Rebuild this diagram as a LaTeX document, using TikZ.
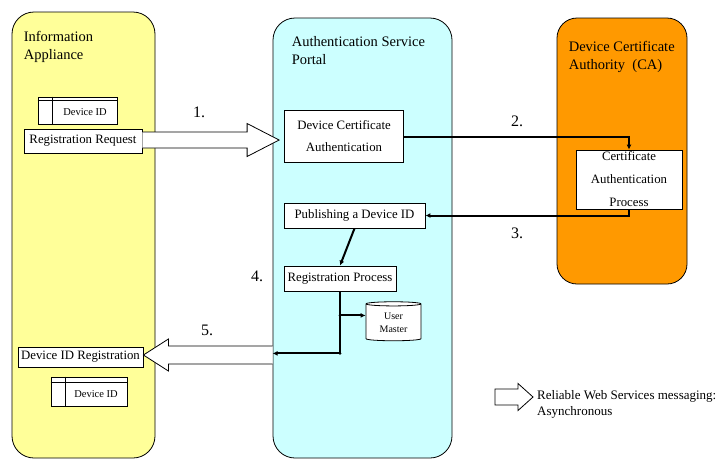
\documentclass[tikz,border=0pt]{standalone}
\usepackage{fontspec}
\setmainfont{Liberation Serif}
\usetikzlibrary{shapes.geometric,calc,arrows.meta}
\definecolor{laneyellow}{HTML}{FFFF99}
\definecolor{lanecyan}{HTML}{CCFFFF}
\definecolor{laneorange}{HTML}{FF9900}
\tikzset{
	lane/.style={draw, line width=0.8pt, rounded corners=22pt, inner sep=0pt},
	lanetitle/.style={anchor=north west, inner sep=0pt, align=left, font=\fontsize{14.5}{18}\selectfont},
	procbox/.style={draw, fill=white, line width=0.8pt, inner sep=1pt, align=center, font=\fontsize{12.8}{22}\selectfont},
	idtable/.style={draw, fill=white, line width=0.8pt, inner sep=0pt},
	smalltext/.style={inner sep=0pt, align=center, font=\fontsize{10.5}{13}\selectfont},
	conn/.style={line width=2pt, -{Latex[length=5pt,width=5pt]}},
	fatarrow/.style={draw, fill=white, line width=0.8pt, line join=miter},
	steplabel/.style={inner sep=0pt, font=\fontsize{16}{16}\selectfont},
}
\begin{document}
\begin{tikzpicture}[x=1pt, y=-1pt]
	\useasboundingbox (0,0) rectangle (719,459);
	
	% lanes
	\node[lane, fill=laneyellow, minimum width=143pt, minimum height=446pt] (applane) at (83.5,235) {};
	\node[lane, fill=lanecyan, minimum width=179pt, minimum height=440pt] (portlane) at (362.5,238) {};
	\node[lane, fill=laneorange, rounded corners=20pt, minimum width=130pt, minimum height=266pt] (calane) at (622,151) {};
	
	% lane titles
	\node[lanetitle] (apptitle) at ($(applane.north west)+(12,19.5)$) {Information\\Appliance};
	\node[lanetitle] (porttitle) at ($(portlane.north west)+(19,19)$) {Authentication Service\\Portal};
	\node[lanetitle] (catitle) at ($(calane.north west)+(12,23)$) {Device Certificate\\Authority\ \ (CA)};
	
	% device id tables
	\node[idtable, minimum width=79pt, minimum height=27pt] (devidtop) at (77.5,110.5) {};
	\draw[line width=0.8pt] ($(devidtop.north west)+(15,0)$) -- ($(devidtop.south west)+(15,0)$);
	\draw[line width=0.8pt] ($(devidtop.north west)+(0,3.5)$) -- ($(devidtop.north east)+(0,3.5)$);
	\node[smalltext] (devidtoptxt) at ($(devidtop.center)+(7.5,2)$) {Device ID};
	
	\node[idtable, minimum width=76pt, minimum height=29pt] (devidbot) at (89,391.5) {};
	\draw[line width=0.8pt] ($(devidbot.north west)+(15,0)$) -- ($(devidbot.south west)+(15,0)$);
	\draw[line width=0.8pt] ($(devidbot.north west)+(0,5.5)$) -- ($(devidbot.north east)+(0,5.5)$);
	\node[smalltext] (devidbottxt) at ($(devidbot.center)+(7,3)$) {Device ID};
	
	% boxes
	\node[procbox, minimum width=118pt, minimum height=24pt] (reqbox) at (83,141) {Registration Request};
	\node[procbox, minimum width=119pt, minimum height=52pt] (dcabox) at (344,136.5) {Device Certificate\\Authentication};
	\node[procbox, minimum width=106pt, minimum height=59pt, font=\fontsize{12.8}{23}\selectfont] (capbox) at (629,179.5) {Certificate\\Authentication\\Process};
	\node[procbox, minimum width=141pt, minimum height=25pt] (pubbox) at (354.5,215.5) {Publishing a Device ID};
	\node[procbox, minimum width=112pt, minimum height=25pt] (regbox) at (340,278.5) {Registration Process};
	\node[procbox, minimum width=125pt, minimum height=20pt] (didreg) at (80.5,357) {Device ID Registration};
	\node[cylinder, shape border rotate=90, draw, fill=white, line width=0.8pt, aspect=0.15, minimum width=55pt, minimum height=39pt, inner sep=0pt, align=center, font=\fontsize{10}{13}\selectfont] (umaster) at (393.5,322.5) {User\\Master};
	
	% web services arrows
	\coordinate (tip1) at ($(dcabox.west |- reqbox.east)+(-5,-1)$);
	\draw[fatarrow] ($(reqbox.east |- tip1)+(0,-8)$) -- ($(tip1)+(-32,-8)$) -- ($(tip1)+(-32,-16.5)$) -- (tip1) -- ($(tip1)+(-32,16.5)$) -- ($(tip1)+(-32,8)$) -- ($(reqbox.east |- tip1)+(0,8)$);
	\coordinate (tip5) at ($(didreg.east)+(0,-2)$);
	\draw[fatarrow] ($(tip5 -| portlane.west)+(0,-9)$) -- ($(tip5)+(25,-9)$) -- ($(tip5)+(25,-16)$) -- (tip5) -- ($(tip5)+(25,16)$) -- ($(tip5)+(25,9)$) -- ($(tip5 -| portlane.west)+(0,9)$);
	
	% connectors
	\draw[conn] (dcabox.east) -| (capbox.north);
	\draw[conn] (capbox.south) |- (pubbox.east);
	\draw[conn] (pubbox.south) -- (regbox.north);
	\coordinate (ubranch) at ($(regbox.south)+(0,24)$);
	\coordinate (retjoin) at ($(regbox.south)+(0,62)$);
	\draw[line width=2pt] (regbox.south) -- (retjoin);
	\draw[conn] (ubranch) -- (ubranch -| umaster.west);
	\draw[conn] (retjoin) -- (retjoin -| portlane.west);
	\fill (ubranch) circle (1.5pt);
	\fill (retjoin) circle (1.5pt);
	
	% step numbers
	\node[steplabel] (step1) at (199,112) {1.};
	\node[steplabel] (step2) at (517,121) {2.};
	\node[steplabel] (step3) at (517,233) {3.};
	\node[steplabel] (step4) at (257,276) {4.};
	\node[steplabel] (step5) at (207,330) {5.};
	
	% legend
	\node[anchor=west, inner sep=0pt, align=left, font=\fontsize{13}{16}\selectfont] (legtext) at (537,404) {Reliable Web Services messaging:\\Asynchronous};
	\coordinate (tipl) at ($(legtext.west)+(-4,-7)$);
	\draw[fatarrow] ($(tipl)+(-38,-8)$) -- ($(tipl)+(-15,-8)$) -- ($(tipl)+(-15,-13.5)$) -- (tipl) -- ($(tipl)+(-15,13.5)$) -- ($(tipl)+(-15,8)$) -- ($(tipl)+(-38,8)$) -- cycle;
	
\end{tikzpicture}
\end{document}
